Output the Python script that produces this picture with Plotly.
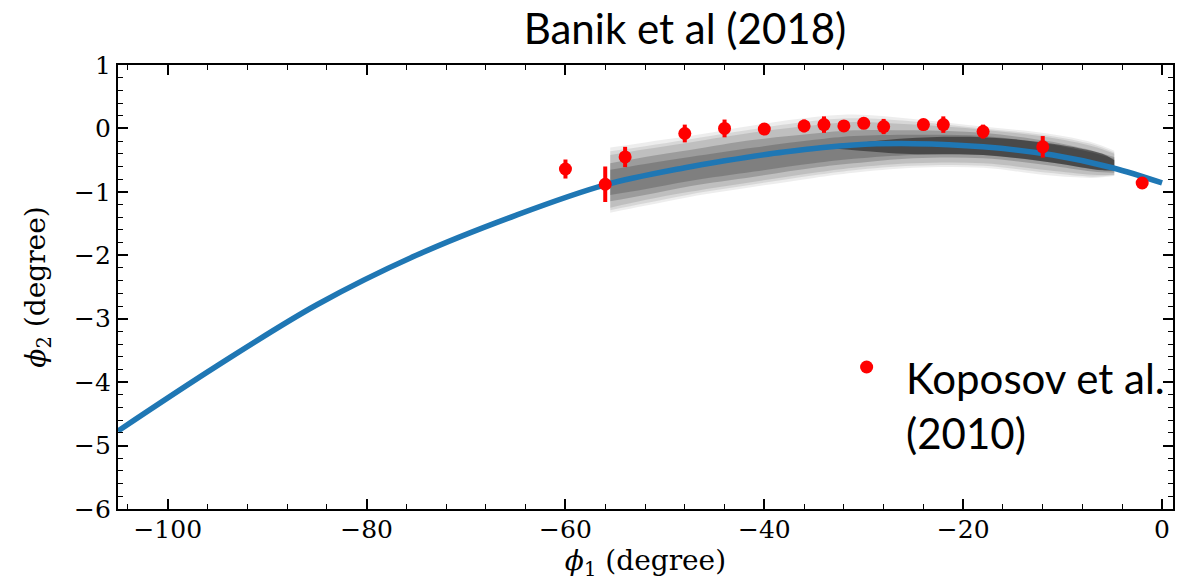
import plotly.graph_objects as go

# Stream track model (phi1, phi2) in degrees
model_phi1 = [-105, -95, -85, -75, -65, -56, -48, -44, -38, -31, -25, -18, -11, -5, 0]
model_phi2 = [-4.77, -3.74, -2.78, -2.00, -1.37, -0.89, -0.62, -0.51, -0.37, -0.26,
              -0.24, -0.29, -0.42, -0.62, -0.86]

# Simulated particle cloud: envelopes of the density, from faint halo to dense core
cloud_phi1 = [-55.5, -52, -47.5, -41, -35, -31, -25, -18, -11.5, -7, -4.8]
halo_hi = [-0.30, -0.22, -0.12, 0.05, 0.18, 0.22, 0.15, 0.03, -0.08, -0.22, -0.35]
halo_lo = [-1.33, -1.22, -1.08, -0.92, -0.78, -0.70, -0.62, -0.62, -0.74, -0.78, -0.75]
outer_hi = [-0.36, -0.28, -0.17, -0.01, 0.12, 0.16, 0.11, 0.00, -0.11, -0.25, -0.38]
outer_lo = [-1.29, -1.18, -1.04, -0.88, -0.74, -0.66, -0.59, -0.59, -0.70, -0.76, -0.74]
mid_hi = [-0.42, -0.33, -0.22, -0.06, 0.05, 0.10, 0.06, -0.02, -0.14, -0.28, -0.40]
mid_lo = [-1.25, -1.13, -1.00, -0.84, -0.70, -0.62, -0.55, -0.55, -0.66, -0.73, -0.73]
core_hi = [-0.55, -0.45, -0.34, -0.18, -0.08, -0.03, -0.03, -0.07, -0.20, -0.35, -0.45]
core_lo = [-1.15, -1.05, -0.91, -0.76, -0.62, -0.55, -0.47, -0.47, -0.58, -0.68, -0.70]
inner_hi = [-0.65, -0.56, -0.45, -0.30, -0.18, -0.12, -0.10, -0.12, -0.24, -0.38, -0.48]
inner_lo = [-1.05, -0.96, -0.83, -0.68, -0.55, -0.48, -0.42, -0.42, -0.53, -0.64, -0.67]
dense_phi1 = [-34, -26, -18, -11, -6, -4.8]
dense_hi = [-0.30, -0.16, -0.14, -0.24, -0.40, -0.50]
dense_lo = [-0.30, -0.40, -0.42, -0.54, -0.66, -0.66]

# Koposov et al. (2010) stream measurements
kop_phi1 = [-60, -56, -54, -48, -44, -40, -36, -34, -32, -30, -28, -24, -22, -18, -12, -2]
kop_phi2 = [-0.64, -0.88, -0.45, -0.08, 0.00, -0.01, 0.04, 0.06, 0.04, 0.08, 0.03,
            0.06, 0.06, -0.05, -0.29, -0.86]
kop_err = [0.15, 0.28, 0.16, 0.14, 0.14, 0.04, 0.10, 0.13, 0.04, 0.08, 0.12,
           0.04, 0.13, 0.11, 0.17, 0.04]

fig = go.Figure()


def add_band(xs, lo, hi, color):
    fig.add_trace(go.Scatter(x=xs, y=lo, mode="lines", line=dict(width=0, shape="spline"),
                             hoverinfo="skip", showlegend=False))
    fig.add_trace(go.Scatter(x=xs, y=hi, mode="lines", line=dict(width=0, shape="spline"),
                             fill="tonexty", fillcolor=color, hoverinfo="skip",
                             showlegend=False))


add_band(cloud_phi1, halo_lo, halo_hi, "rgba(0,0,0,0.07)")
add_band(cloud_phi1, outer_lo, outer_hi, "rgba(0,0,0,0.09)")
add_band(cloud_phi1, mid_lo, mid_hi, "rgba(0,0,0,0.11)")
add_band(cloud_phi1, core_lo, core_hi, "rgba(0,0,0,0.18)")
add_band(cloud_phi1, inner_lo, inner_hi, "rgba(0,0,0,0.18)")
add_band(dense_phi1, dense_lo, dense_hi, "rgba(0,0,0,0.42)")

fig.add_trace(go.Scatter(
    x=model_phi1, y=model_phi2, mode="lines",
    line=dict(color="#1f77b4", width=5.5, shape="spline"),
    showlegend=False,
))

fig.add_trace(go.Scatter(
    x=kop_phi1, y=kop_phi2, mode="markers",
    marker=dict(color="#ff0000", size=13),
    error_y=dict(type="data", array=kop_err, color="#ff0000", thickness=4, width=0),
    name="Koposov et al. (2010)", showlegend=False,
))

serif = "DejaVu Serif, Liberation Serif, serif"
tick_font = dict(family=serif, size=25, color="black")
axis_common = dict(
    showgrid=False, zeroline=False, showline=True, linecolor="black", linewidth=2.3,
    mirror="allticks", ticks="inside", ticklen=10, tickwidth=1.6, tickcolor="black",
    tickfont=tick_font,
)

fig.update_xaxes(
    range=[-105, 1.1], tick0=0, dtick=20, ticklabelstandoff=-3,
    minor=dict(dtick=4, tick0=0, ticks="inside", ticklen=5, tickwidth=1.2, tickcolor="black"),
    title=dict(text="<i>ϕ</i><sub>1</sub> (degree)", font=dict(family=serif, size=28, color="black"),
               standoff=4),
    **axis_common,
)
fig.update_yaxes(
    range=[-6, 1], tick0=0, dtick=1,
    minor=dict(dtick=0.2, tick0=0, ticks="inside", ticklen=5, tickwidth=1.2, tickcolor="black"),
    title=dict(text="<i>ϕ</i><sub>2</sub> (degree)", font=dict(family=serif, size=28, color="black"),
               standoff=20),
    **axis_common,
)

# Legend entry for the Koposov et al. measurements
legend_font = dict(family="Lato, Open Sans, sans-serif", size=42, color="black")
fig.add_shape(type="circle", xref="paper", yref="paper",
              x0=0.7096 - 0.0062, x1=0.7096 + 0.0062, y0=0.3198 - 0.0146, y1=0.3198 + 0.0146,
              fillcolor="#ff0000", line=dict(width=0))
fig.add_annotation(text="Koposov et al.<br>(2010)", xref="paper", yref="paper",
                   x=0.7446, y=0.355, xanchor="left", yanchor="top", align="left",
                   showarrow=False, font=legend_font)

fig.update_layout(
    width=1183, height=582,
    margin=dict(l=118, r=8, t=65, b=73),
    paper_bgcolor="white", plot_bgcolor="white", showlegend=False,
    title=dict(text="Banik et al (2018)", x=0.579, xanchor="center", y=0.95, yanchor="middle",
               font=legend_font),
)

fig.write_html("out.html")
